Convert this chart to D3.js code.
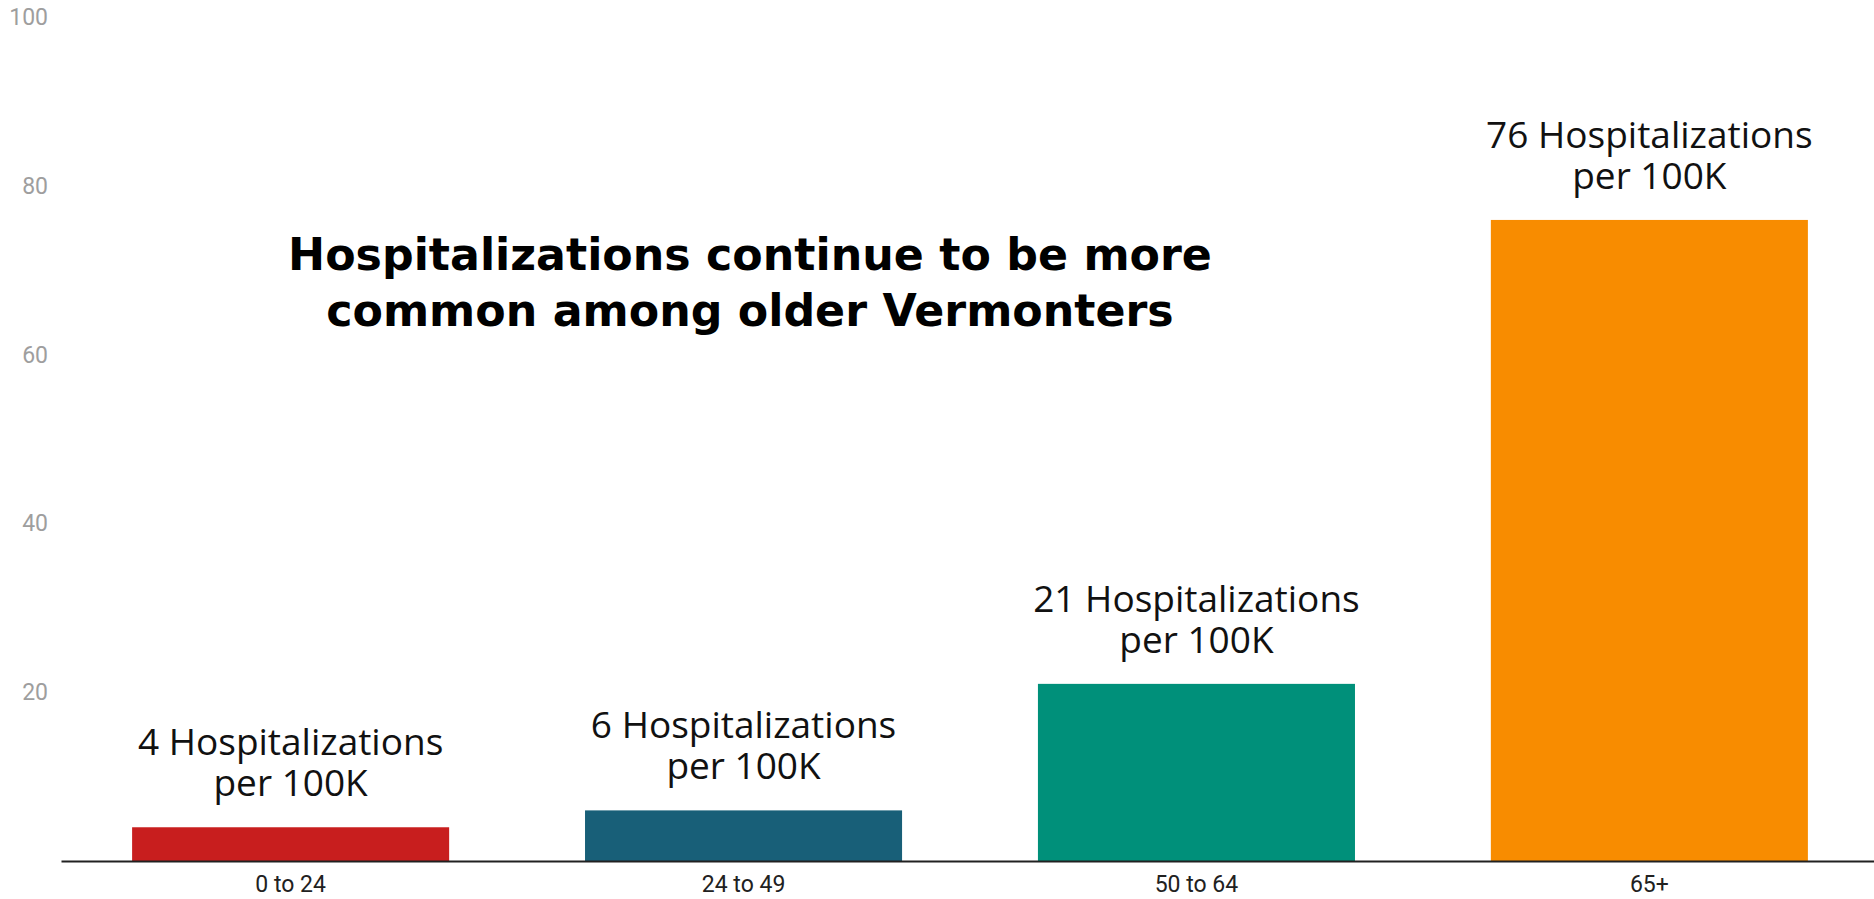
<!DOCTYPE html>
<html>
<head>
<meta charset="utf-8">
<script src="https://cdn.jsdelivr.net/npm/d3@7"></script>
<style>
  body { margin: 0; background: #fff; }
</style>
</head>
<body>
<svg id="chart"></svg>
<script>
const ageGroups = ['0 to 24', '24 to 49', '50 to 64', '65+'];
const hospitalizations = [4, 6, 21, 76];
const barColors = ['#c81e1e', '#185f78', '#00907a', '#f88c00'];
const yTicks = [20, 40, 60, 80, 100];
const titleLines = ['Hospitalizations continue to be more', 'common among older Vermonters'];

const width = 1874, height = 899;
const svg = d3.select('#chart').attr('width', width).attr('height', height);

const x = d3.scaleBand()
  .domain(ageGroups)
  .range([61, 1879])
  .paddingInner(0.3)
  .paddingOuter(0.157);

const y = d3.scaleLinear()
  .domain([0, 100])
  .range([861, 17.5]);

// bars
svg.append('g')
  .selectAll('rect')
  .data(hospitalizations)
  .join('rect')
  .attr('x', (d, i) => x(ageGroups[i]))
  .attr('y', d => y(d))
  .attr('width', x.bandwidth())
  .attr('height', d => y(0) - y(d))
  .attr('fill', (d, i) => barColors[i]);

// y axis, labels only
const yAxis = svg.append('g')
  .attr('transform', 'translate(48,0)')
  .call(d3.axisLeft(y).tickValues(yTicks).tickSize(0).tickPadding(0));
yAxis.select('.domain').remove();
yAxis.selectAll('text')
  .attr('fill', '#9e9e9e')
  .style('font-family', 'Roboto, sans-serif')
  .style('font-size', '23px');

// x axis
const xAxis = svg.append('g')
  .attr('transform', `translate(0,${y(0)})`)
  .call(d3.axisBottom(x).tickSize(0).tickPadding(15));
xAxis.select('.domain')
  .attr('stroke', '#212121')
  .attr('stroke-width', 2);
xAxis.selectAll('text')
  .attr('fill', '#212121')
  .style('font-family', 'Roboto, sans-serif')
  .style('font-size', '23px');

// value labels above bars
const labels = svg.append('g')
  .selectAll('text')
  .data(hospitalizations)
  .join('text')
  .attr('text-anchor', 'middle')
  .attr('fill', '#111')
  .style('font-family', '"Open Sans", sans-serif')
  .style('font-size', '37px');
labels.append('tspan')
  .attr('x', (d, i) => x(ageGroups[i]) + x.bandwidth() / 2)
  .attr('y', d => y(d) - 72)
  .text(d => `${d} Hospitalizations`);
labels.append('tspan')
  .attr('x', (d, i) => x(ageGroups[i]) + x.bandwidth() / 2)
  .attr('y', d => y(d) - 31)
  .text('per 100K');

// title
svg.append('g')
  .selectAll('text')
  .data(titleLines)
  .join('text')
  .attr('x', 750)
  .attr('y', (d, i) => 270 + i * 56)
  .attr('text-anchor', 'middle')
  .attr('fill', '#000')
  .style('font-family', '"DejaVu Sans", sans-serif')
  .style('font-weight', 700)
  .style('font-size', '44.3px')
  .text(d => d);
</script>
</body>
</html>
